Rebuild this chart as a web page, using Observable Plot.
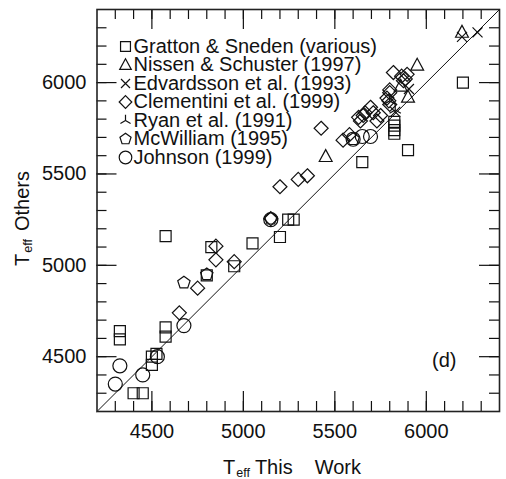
<!DOCTYPE html>
<html>
<head>
<meta charset="utf-8">
<script src="https://cdn.jsdelivr.net/npm/d3@7"></script>
<script src="https://cdn.jsdelivr.net/npm/@observablehq/plot@0.6"></script>
<style>
  body { margin: 0; background: #fff; }
  #chart svg { font-family: "Liberation Sans", Arial, Helvetica, sans-serif; }
</style>
</head>
<body>
<div id="chart"></div>
<script>
// Effective temperatures (K): this work vs. literature values, one pair of arrays per source
const grattonThis   = [4325, 4325, 4400, 4450, 4500, 4525, 4500, 4575, 4575, 4575, 4825, 4950, 4800, 5050, 5200, 5245, 5275, 5650, 5900, 5825, 5825, 5825, 5825, 6200];
const grattonOthers = [4640, 4595, 4300, 4300, 4500, 4515, 4455, 4660, 4610, 5160, 5100, 4995, 4945, 5120, 5155, 5250, 5250, 5565, 5630, 5785, 5765, 5740, 5720, 6000];

const nissenThis   = [5450, 5900, 5950, 6195, 5860];
const nissenOthers = [5595, 5920, 6095, 6275, 5980];

const edvardssonThis   = [6280, 6195, 5830, 5905];
const edvardssonOthers = [6275, 6250, 5840, 5965];

const clementiniThis   = [4650, 4750, 4850, 4850, 4950, 5150, 5200, 5300, 5350, 5425, 5545, 5580, 5630, 5655, 5665, 5695, 5710, 5750, 5730, 5640, 5800, 5800, 5785, 5795, 5800, 5820, 5865, 5895, 5885, 5875];
const clementiniOthers = [4740, 4875, 5105, 5030, 5020, 5255, 5430, 5470, 5490, 5750, 5685, 5715, 5810, 5820, 5835, 5865, 5835, 5820, 5790, 5790, 5960, 5945, 5915, 5900, 5880, 6055, 6035, 6045, 6020, 6010];

const ryanThis   = [5800, 5830];
const ryanOthers = [5900, 5850];

const mcwilliamThis   = [4675, 4800, 5150, 5600];
const mcwilliamOthers = [4905, 4950, 5255, 5690];

const johnsonThis   = [4300, 4325, 4450, 4530, 4675, 5150, 5600, 5650, 5695];
const johnsonOthers = [4350, 4450, 4400, 4500, 4670, 5250, 5690, 5705, 5705];

const sources = [
  "Gratton & Sneden (various)",
  "Nissen & Schuster (1997)",
  "Edvardsson et al. (1993)",
  "Clementini et al. (1999)",
  "Ryan et al. (1991)",
  "McWilliam (1995)",
  "Johnson (1999)"
];

// Axis extents and tick values (same for both axes)
const domain = [4200, 6400];
const majorTicks = [4500, 5000, 5500, 6000];
const minorTicks = [4300, 4400, 4500, 4600, 4700, 4800, 4900, 5000, 5100, 5200, 5300, 5400, 5500, 5600, 5700, 5800, 5900, 6000, 6100, 6200, 6300];

// Open marker shapes; Plot passes size = r²π, so r is recovered from it
const rad = s => Math.sqrt(s / Math.PI);
const shapes = {
  square: { draw(c, s) { const r = rad(s); c.rect(-r, -r, 2 * r, 2 * r); } },
  triangle: { draw(c, s) { const r = rad(s); c.moveTo(0, -r); c.lineTo(r * 0.92, r * 0.7); c.lineTo(-r * 0.92, r * 0.7); c.closePath(); } },
  times: { draw(c, s) { const r = rad(s); c.moveTo(-r, -r); c.lineTo(r, r); c.moveTo(r, -r); c.lineTo(-r, r); } },
  diamond: { draw(c, s) { const r = rad(s); c.moveTo(0, -r); c.lineTo(r, 0); c.lineTo(0, r); c.lineTo(-r, 0); c.closePath(); } },
  tripod: { draw(c, s) { const r = rad(s); c.moveTo(0, 0); c.lineTo(0, -r); c.moveTo(0, 0); c.lineTo(-r * 0.87, r * 0.5); c.moveTo(0, 0); c.lineTo(r * 0.87, r * 0.5); } },
  pentagon: { draw(c, s) {
    const r = rad(s);
    for (let i = 0; i < 5; i++) {
      const a = -Math.PI / 2 + i * 2 * Math.PI / 5;
      const px = r * Math.cos(a), py = r * Math.sin(a);
      if (i === 0) c.moveTo(px, py); else c.lineTo(px, py);
    }
    c.closePath();
  } },
  circle: { draw(c, s) { const r = rad(s); c.moveTo(r, 0); c.arc(0, 0, r, 0, 2 * Math.PI); } }
};

const pairs = (xs, ys) => xs.map((x, i) => ({ x, y: ys[i] }));
const series = [
  { data: pairs(grattonThis, grattonOthers), symbol: shapes.square, r: 5.5 },
  { data: pairs(nissenThis, nissenOthers), symbol: shapes.triangle, r: 7 },
  { data: pairs(edvardssonThis, edvardssonOthers), symbol: shapes.times, r: 5 },
  { data: pairs(clementiniThis, clementiniOthers), symbol: shapes.diamond, r: 7 },
  { data: pairs(ryanThis, ryanOthers), symbol: shapes.tripod, r: 6.5 },
  { data: pairs(mcwilliamThis, mcwilliamOthers), symbol: shapes.pentagon, r: 6.5 },
  { data: pairs(johnsonThis, johnsonOthers), symbol: shapes.circle, r: 7 }
];

const W = 506, H = 479;
const mL = 96.5, mR = 7, mT = 9, mB = 68;
const fw = W - mL - mR, fh = H - mT - mB;
const ink = "#111";
const fontSize = 20;

const marks = [];

// 1:1 reference line spanning the axes
marks.push(Plot.line(domain.map(v => ({ x: v, y: v })), { x: "x", y: "y", stroke: ink, strokeWidth: 1 }));

// Inward ticks on all four sides: 10 px minor, 20 px major
for (const [vals, len] of [[minorTicks, 10], [majorTicks, 20]]) {
  marks.push(Plot.tickX(vals, { x: d => d, insetTop: fh - len, stroke: ink, strokeWidth: 1.2 }));
  marks.push(Plot.tickX(vals, { x: d => d, insetBottom: fh - len, stroke: ink, strokeWidth: 1.2 }));
  marks.push(Plot.tickY(vals, { y: d => d, insetRight: fw - len, stroke: ink, strokeWidth: 1.2 }));
  marks.push(Plot.tickY(vals, { y: d => d, insetLeft: fw - len, stroke: ink, strokeWidth: 1.2 }));
}

// Tick labels (plain integers)
const plain = d => String(d);
marks.push(Plot.axisX(majorTicks, { tickSize: 0, tickPadding: 12, tickFormat: plain, fontSize, fill: ink, label: null }));
marks.push(Plot.axisY(majorTicks, { tickSize: 0, tickPadding: 10.5, tickFormat: plain, fontSize, fill: ink, label: null }));

// Data points
for (const s of series) {
  marks.push(Plot.dot(s.data, { x: "x", y: "y", symbol: s.symbol, r: s.r, stroke: ink, strokeWidth: 1.2, fill: "none" }));
}

// Legend in the upper-left corner of the frame
const rowTop = 37, rowStep = 18.5;
series.forEach((s, i) => {
  marks.push(Plot.dot([sources[i]], { frameAnchor: "top-left", dx: 28.5, dy: rowTop + i * rowStep, symbol: s.symbol, r: s.r * 0.9, stroke: ink, strokeWidth: 1.2, fill: "none" }));
  marks.push(Plot.text([sources[i]], { text: d => d, frameAnchor: "top-left", dx: 36.5, dy: rowTop + i * rowStep, textAnchor: "start", lineAnchor: "middle", fontSize, fill: ink }));
});

// Panel tag
marks.push(Plot.text(["(d)"], { text: d => d, frameAnchor: "bottom-right", dx: -43, dy: -50.5, textAnchor: "end", lineAnchor: "middle", fontSize, fill: ink }));

marks.push(Plot.frame({ stroke: "#222", strokeWidth: 1.6 }));

const chart = Plot.plot({
  width: W,
  height: H,
  marginLeft: mL,
  marginRight: mR,
  marginTop: mT,
  marginBottom: mB,
  style: { fontFamily: '"Liberation Sans", Arial, Helvetica, sans-serif', fontSize: "20px", background: "#fff", color: ink },
  x: { domain, axis: null },
  y: { domain, axis: null },
  marks
});

// Axis titles with subscripted "eff"
const svg = d3.select(chart);
const xt = svg.append("text")
  .attr("x", 223).attr("y", 474)
  .attr("text-anchor", "start")
  .attr("fill", ink).attr("font-size", fontSize);
xt.append("tspan").text("T");
xt.append("tspan").attr("font-size", 12.5).attr("dx", 1).attr("dy", 2.5).text("eff");
xt.append("tspan").attr("dx", 5).attr("dy", -2.5).text("This");
xt.append("tspan").attr("dx", 22).text("Work");

const yt = svg.append("text")
  .attr("transform", "translate(29,266) rotate(-90)")
  .attr("text-anchor", "start")
  .attr("fill", ink).attr("font-size", fontSize);
yt.append("tspan").text("T");
yt.append("tspan").attr("font-size", 12.5).attr("dx", 1).attr("dy", 2.5).text("eff");
yt.append("tspan").attr("dx", 8).attr("dy", -2.5).text("Others");

document.getElementById("chart").appendChild(chart);
</script>
</body>
</html>
